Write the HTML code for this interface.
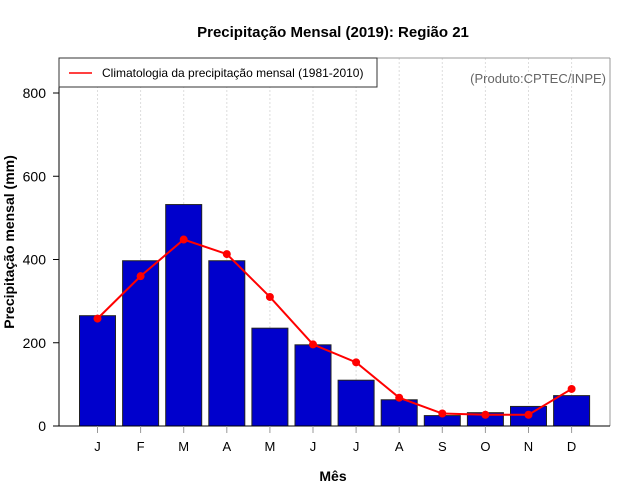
<!DOCTYPE html>
<html><head><meta charset="utf-8"><style>
body{margin:0;background:#fff;}
svg{display:block;font-family:"Liberation Sans",sans-serif;}
</style></head><body>
<svg id="c" width="640" height="500"></svg>
<script>
const months=["J","F","M","A","M","J","J","A","S","O","N","D"];
const obs2019=[265,397,532,397,235,195,110,63,25,32,47,73];
const clim=[258,360,448,413,310,196,153,68,30,27,27,89];
const yTicks=[0,200,400,600,800];
const NS="http://www.w3.org/2000/svg";
const svg=document.getElementById('c');
const L=59,R=610,T=58,B=426;
const x=i=>97.5+i*43.1;
const y=v=>B-v*(333/800);
function mk(t,a,p){const e=document.createElementNS(NS,t);for(const k in a)e.setAttribute(k,a[k]);(p||svg).appendChild(e);return e;}
// grid
months.forEach((m,i)=>{const g=mk('line',{x1:x(i),x2:x(i),y1:T,y2:B,stroke:'#ddd','stroke-dasharray':'2,2'});

});
// bars
obs2019.forEach((v,i)=>{const r=mk('rect',{x:x(i)-18,y:y(v),width:36,height:B-y(v),fill:'#0000cc',stroke:'#222','stroke-width':1});

});
// line
const pl=mk('polyline',{points:clim.map((v,i)=>x(i)+','+y(v)).join(' '),fill:'none',stroke:'#f00','stroke-width':2});


clim.forEach((v,i)=>{const c=mk('circle',{cx:x(i),cy:y(v),r:4,fill:'#f00'});

});
// frame
mk('line',{x1:L,x2:R,y1:T,y2:T,stroke:'#999'});
mk('line',{x1:R,x2:R,y1:T,y2:B,stroke:'#999'});
mk('line',{x1:L,x2:L,y1:T,y2:B,stroke:'#000'});
mk('line',{x1:L,x2:R,y1:B,y2:B,stroke:'#000'});
// y ticks
yTicks.forEach(v=>{mk('line',{x1:L-6,x2:L,y1:y(v),y2:y(v),stroke:'#000'});
const t=mk('text',{x:L-13,y:y(v)+5,'text-anchor':'end','font-size':14});t.textContent=v;

});
// x ticks
months.forEach((m,i)=>{mk('line',{x1:x(i),x2:x(i),y1:B,y2:B+7,stroke:'#999'});
const t=mk('text',{x:x(i),y:B+25,'text-anchor':'middle','font-size':13});t.textContent=m;

});
</script>
<svg style="position:absolute;left:0;top:0" width="640" height="500">
<text x="333" y="37" text-anchor="middle" font-size="15" font-weight="bold">Precipitação Mensal (2019): Região 21</text>
<text x="333" y="481" text-anchor="middle" font-size="14" font-weight="bold">Mês</text>
<text transform="translate(14,242) rotate(-90)" text-anchor="middle" font-size="14" font-weight="bold">Precipitação mensal (mm)</text>
<text x="606" y="83" text-anchor="end" font-size="13" fill="#666">(Produto:CPTEC/INPE)</text>
<g>
<rect x="59" y="58" width="318" height="29" fill="#fff" stroke="#333"/>
<line x1="69" x2="92" y1="73" y2="73" stroke="#f00" stroke-width="1.5"/>
<text x="102" y="77" font-size="12">Climatologia da precipitação mensal (1981-2010)</text>
</g>
</svg>
</body></html>
